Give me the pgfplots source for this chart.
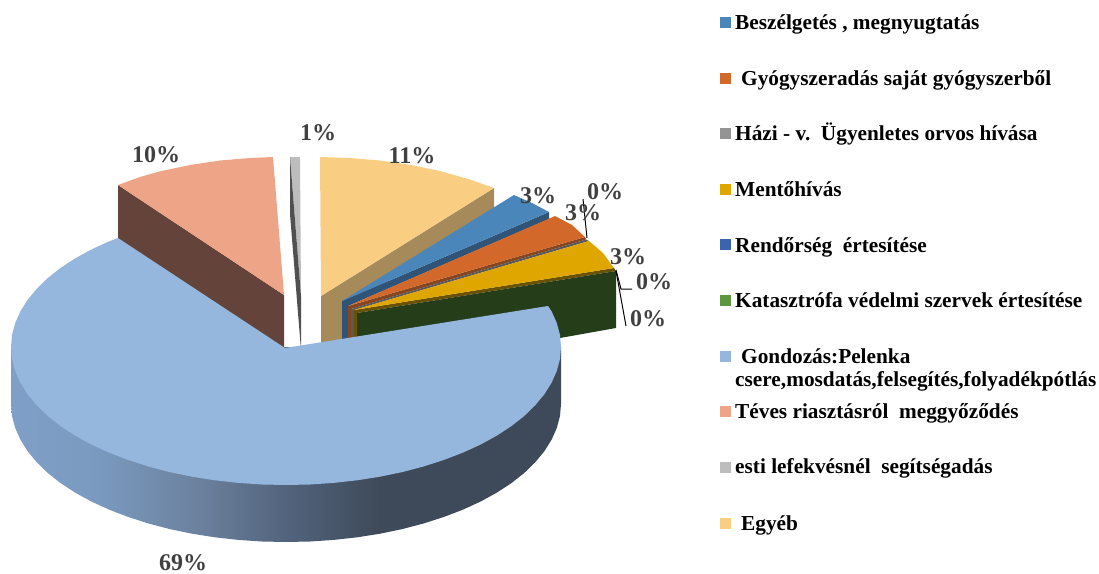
\documentclass[border=0pt]{standalone}
\usepackage{fontspec}
\setmainfont{Liberation Serif}
\usepackage{pgfplots}
\pgfplotsset{compat=1.18}
% pie tops
\definecolor{cblue}{HTML}{4A86BA}
\definecolor{corange}{HTML}{D2692A}
\definecolor{cgrey}{HTML}{949494}
\definecolor{cgold}{HTML}{E0A600}
\definecolor{cnavy}{HTML}{3A64AB}
\definecolor{cgreen}{HTML}{5E9740}
\definecolor{clight}{HTML}{95B6DD}
\definecolor{cpeach}{HTML}{EEA587}
\definecolor{csilver}{HTML}{BDBDBD}
\definecolor{cyellow}{HTML}{FACE82}
% pie walls
\definecolor{wtan}{HTML}{A68A5A}
\definecolor{wbrown}{HTML}{63433A}
\definecolor{wdark}{HTML}{505050}
\definecolor{wblue}{HTML}{2F5478}
\definecolor{worange}{HTML}{86461F}
\definecolor{wgrey}{HTML}{595959}
\definecolor{wgold}{HTML}{6B5200}
\definecolor{wgreen}{HTML}{263D1A}
\definecolor{labelgrey}{HTML}{404040}
\definecolor{sa}{HTML}{7F9FC8}
\definecolor{sb}{HTML}{7A9ABF}
\definecolor{sc}{HTML}{6C819E}
\definecolor{sd}{HTML}{4F6078}
\definecolor{se}{HTML}{3E4A59}
\pgfdeclarehorizontalshading{sidegrad}{100bp}{color(0bp)=(sa); color(25bp)=(sa); color(33bp)=(sb); color(42bp)=(sc); color(51bp)=(sd); color(58.5bp)=(se); color(100bp)=(se)}
\tikzset{
  lbl/.style={font=\fontsize{24}{24}\selectfont\bfseries,text=labelgrey,inner sep=0pt},
  leg/.style={font=\fontsize{21.3}{21.3}\selectfont\bfseries,text=black,anchor=base west,inner sep=0pt},
}
\begin{document}
\begin{tikzpicture}
\path[use as bounding box] (0,0) rectangle (1099pt,573pt);
\clip (0,0) rectangle (1099pt,573pt);
\begin{axis}[
  at={(0,0)},anchor=south west,
  scale only axis,
  width=1099pt,height=573pt,
  xmin=0,xmax=1099,ymin=0,ymax=573,
  y dir=reverse,
  hide axis,
  clip=false,
]
% peach slice
\addplot[draw=none,fill=wbrown] coordinates {(118,185) (284,295) (284,350) (118,240)} --cycle;
\addplot[draw=none,fill=cpeach] coordinates {(118,185) (140,177) (160,171.3) (190,165) (220,160.5) (250,158) (273,157) (284,295)} --cycle;
% silver slice
\addplot[draw=none,fill=csilver] coordinates {(290,157) (300,157) (301,296)} --cycle;
\addplot[draw=none,fill=wdark] coordinates {(290,157) (301,296) (301,350) (290,214)} --cycle;
% yellow slice
\addplot[draw=none,fill=wtan] coordinates {(321,296) (494,188) (494,215) (342,310) (342,345) (321,350)} --cycle;
\addplot[draw=none,fill=cyellow] coordinates {(320,157) (350,158) (380,160.5) (410,164.8) (440,171) (470,179.5) (494,188) (321,296)} --cycle;
% blue slice
\addplot[draw=none,fill=wblue] coordinates {(342,301) (549,212) (549,219) (348,306) (348,345) (342,345)} --cycle;
\addplot[draw=none,fill=cblue] coordinates {(342,301) (514,195) (532,203) (549,212)} --cycle;
% orange slice
\addplot[draw=none,fill=worange] coordinates {(348,306) (585,237) (586,239.5) (351,309) (351,345) (348,345)} --cycle;
\addplot[draw=none,fill=corange] coordinates {(348,306) (555,216) (572,225) (585,237)} --cycle;
% grey zero slice
\addplot[draw=none,fill=wgrey] coordinates {(351,309) (586,239.5) (589,241) (354,310) (354,345) (351,345)} --cycle;
% gold slice
\addplot[draw=none,fill=wgold] coordinates {(354,310) (614,268) (616,271) (357,313) (357,345) (354,345)} --cycle;
\addplot[draw=none,fill=cgold] coordinates {(354,310) (589,241) (603,253) (614,268)} --cycle;
% green zero slice
\addplot[draw=none,fill=wgreen] coordinates {(357,313) (616,271) (616,328) (560,338) (357,350)} --cycle;
% big slice: side wall then top
\addplot[draw=none,shading=sidegrad] coordinates {
  (561,347) (561,404) (560,416) (556.8,428) (551.6,439.7) (544.4,451.2) (535.2,462.3) (524.2,473)
  (511.3,483.2) (496.7,492.7) (480.5,501.6) (462.8,509.7) (443.7,517) (423.5,523.5) (402.2,529.1)
  (380,533.7) (357.2,537.3) (333.7,539.9) (310,541.5) (286,542) (262,541.5) (238.3,539.9) (214.8,537.3)
  (192,533.7) (169.8,529.1) (148.5,523.5) (128.3,517) (109.2,509.7) (91.5,501.6) (75.3,492.7)
  (60.7,483.2) (47.8,473) (36.8,462.3) (27.6,451.2) (20.4,439.7) (15.2,428) (12,416) (11,404) (11,347)
} --cycle;
\addplot[draw=none,fill=clight] coordinates {
  (285,348) (548,306) (551.6,311.3) (556.8,323) (560,335) (561,347) (560,359) (556.8,371) (551.6,382.7)
  (544.4,394.2) (535.2,405.3) (524.2,416) (511.3,426.2) (496.7,435.7) (480.5,444.6) (462.8,452.7)
  (443.7,460) (423.5,466.5) (402.2,472.1) (380,476.7) (357.2,480.3) (333.7,482.9) (310,484.5) (286,485)
  (262,484.5) (238.3,482.9) (214.8,480.3) (192,476.7) (169.8,472.1) (148.5,466.5) (128.3,460)
  (109.2,452.7) (91.5,444.6) (75.3,435.7) (60.7,426.2) (47.8,416) (36.8,405.3) (27.6,394.2) (20.4,382.7)
  (15.2,371) (12,359) (11,347) (12,335) (15.2,323) (20.4,311.3) (27.6,299.8) (36.8,288.7) (47.8,278)
  (60.7,267.8) (75.3,258.3) (91.5,249.4) (109.2,241.3) (118,238)
} --cycle;
% leader lines
\addplot[black,line width=1pt] coordinates {(583,199) (587,238)};
\addplot[black,line width=1pt] coordinates {(616,270) (621,289) (632,289)};
\addplot[black,line width=1pt] coordinates {(616,271) (626,326)};
% data labels, as plots so they land above the slices
\addplot[draw=none] coordinates {(318,133)} node[lbl] {1\%};
\addplot[draw=none] coordinates {(412,156)} node[lbl] {11\%};
\addplot[draw=none] coordinates {(156,155)} node[lbl] {10\%};
\addplot[draw=none] coordinates {(538,196)} node[lbl] {3\%};
\addplot[draw=none] coordinates {(605,192)} node[lbl] {0\%};
\addplot[draw=none] coordinates {(583,213)} node[lbl] {3\%};
\addplot[draw=none] coordinates {(628,257)} node[lbl] {3\%};
\addplot[draw=none] coordinates {(654,282)} node[lbl] {0\%};
\addplot[draw=none] coordinates {(648,319)} node[lbl] {0\%};
\addplot[draw=none] coordinates {(183,562.5)} node[lbl] {69\%};
% legend
\addplot[draw=none,fill=cblue] coordinates {(720,17) (731,17) (731,28) (720,28)} --cycle;
\addplot[draw=none,fill=corange] coordinates {(720,73) (731,73) (731,84) (720,84)} --cycle;
\addplot[draw=none,fill=cgrey] coordinates {(720,128) (731,128) (731,139) (720,139)} --cycle;
\addplot[draw=none,fill=cgold] coordinates {(720,184) (731,184) (731,195) (720,195)} --cycle;
\addplot[draw=none,fill=cnavy] coordinates {(720,239) (731,239) (731,250) (720,250)} --cycle;
\addplot[draw=none,fill=cgreen] coordinates {(720,295) (731,295) (731,306) (720,306)} --cycle;
\addplot[draw=none,fill=clight] coordinates {(720,351) (731,351) (731,362) (720,362)} --cycle;
\addplot[draw=none,fill=cpeach] coordinates {(720,406) (731,406) (731,417) (720,417)} --cycle;
\addplot[draw=none,fill=csilver] coordinates {(720,462) (731,462) (731,473) (720,473)} --cycle;
\addplot[draw=none,fill=cyellow] coordinates {(720,518) (731,518) (731,529) (720,529)} --cycle;
\node[leg] at (axis cs:735,29) {Beszélgetés , megnyugtatás};
\node[leg] at (axis cs:741,85) {Gyógyszeradás saját gyógyszerből};
\node[leg] at (axis cs:735,140) {Házi - v.\ \ Ügyenletes orvos hívása};
\node[leg] at (axis cs:735,196) {Mentőhívás};
\node[leg] at (axis cs:735,252) {Rendőrség\ \ értesítése};
\node[leg] at (axis cs:735,307) {Katasztrófa védelmi szervek értesítése};
\node[leg] at (axis cs:741,363) {Gondozás:Pelenka};
\node[leg] at (axis cs:735,386) {csere,mosdatás,felsegítés,folyadékpótlás};
\node[leg] at (axis cs:735,418) {Téves riasztásról\ \ meggyőződés};
\node[leg] at (axis cs:735,473) {esti lefekvésnél\ \ segítségadás};
\node[leg] at (axis cs:741,530) {Egyéb};
\end{axis}
\end{tikzpicture}
\end{document}
